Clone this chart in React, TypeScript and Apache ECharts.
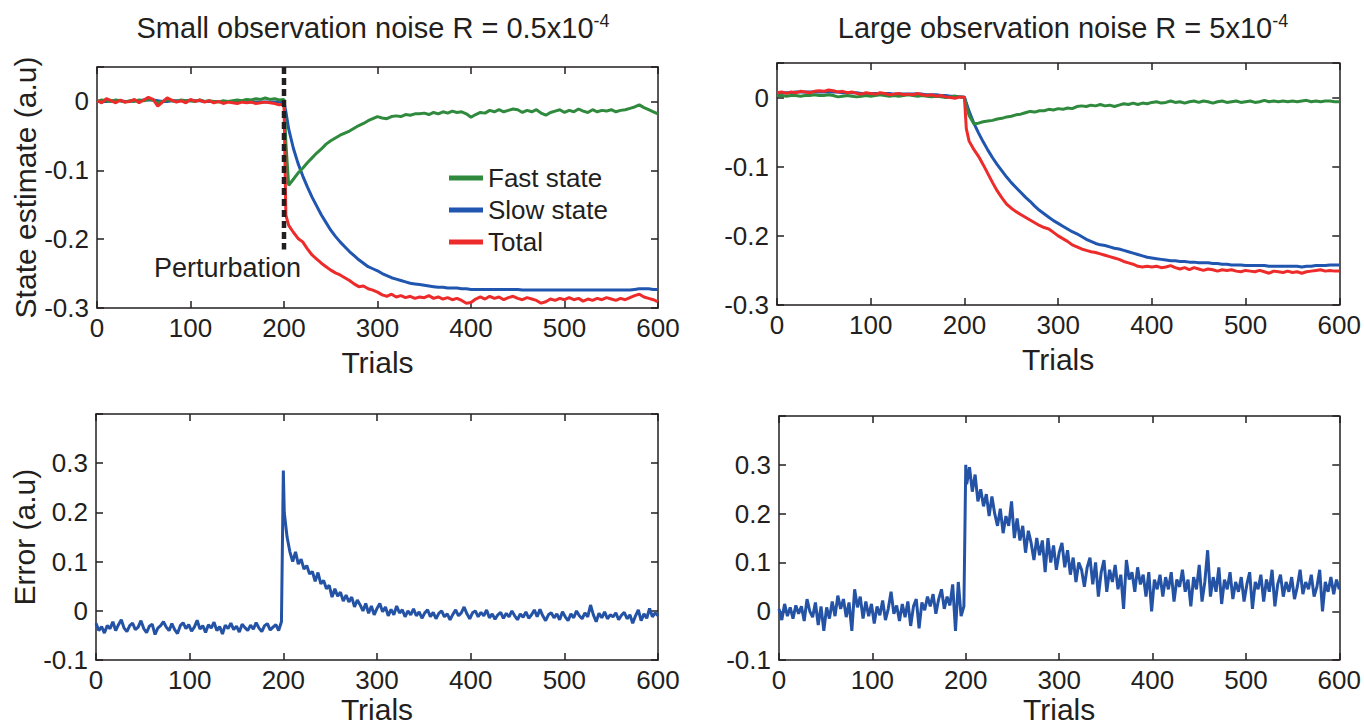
import React, { useEffect, useRef } from "react";
import * as echarts from "echarts";

// ---------- data ----------
const TRIAL_MIN = 0;
const TRIAL_MAX = 600;
const PERTURB_TRIAL = 200;
const STATE_STEP = 5;
const STATE_JUMP_TRIAL = 202;
const STATE_POST_START = 205;
const ERROR_STEP = 3;
const ERROR_POST_START = 201;

const stateTicks = [-0.3, -0.2, -0.1, 0];
const errorTicks = [-0.1, 0, 0.1, 0.2, 0.3];
const trialTicks = [0, 100, 200, 300, 400, 500, 600];
const legendNames = ["Fast state", "Slow state", "Total"];
const perturbationExtent = [0.05, -0.215];

// Small observation noise (top-left)
const smallFastPre = [0.000,0.002,0.001,0.000,0.002,0.001,-0.001,0.001,0.000,0.002,
  0.001,0.003,0.002,-0.002,0.000,0.002,0.001,0.000,0.002,0.001,
  0.001,0.000,0.002,0.000,0.001,0.000,-0.001,0.001,0.000,0.001,
  0.002,0.001,0.003,0.002,0.004,0.003,0.005,0.003,0.004,0.002,
  0.003];
const smallSlowPre = [0.000,0.000,0.000,0.001,0.001,0.001,0.000,0.000,0.001,0.001,
  0.002,0.002,0.002,0.001,0.000,0.000,0.001,0.001,0.001,0.001,
  0.001,0.001,0.001,0.000,0.000,0.000,0.000,0.000,0.000,0.000,
  0.000,0.000,-0.001,-0.001,-0.001,-0.001,-0.001,-0.001,-0.001,-0.001,
  -0.001];
const smallTotalPre = [0.001,-0.002,0.004,0.001,-0.002,0.002,-0.001,0.000,0.003,-0.002,
  0.002,0.006,0.003,-0.007,-0.001,0.005,0.002,-0.001,0.001,-0.002,
  0.003,0.000,0.002,-0.001,0.001,-0.002,0.000,-0.003,-0.001,-0.002,
  -0.003,-0.001,-0.002,-0.001,-0.003,-0.002,-0.001,-0.002,-0.003,-0.005,
  -0.003];
const smallJump = [-0.06, -0.015, -0.165]; // fast, slow, total at trial 202
const smallFastPost = [-0.122,-0.113,-0.104,-0.097,-0.089,-0.082,-0.075,-0.069,-0.062,-0.057,
  -0.053,-0.049,-0.046,-0.043,-0.039,-0.035,-0.032,-0.028,-0.025,-0.022,
  -0.024,-0.025,-0.022,-0.021,-0.022,-0.019,-0.020,-0.018,-0.018,-0.017,
  -0.019,-0.016,-0.018,-0.015,-0.017,-0.014,-0.016,-0.015,-0.018,-0.023,
  -0.019,-0.016,-0.017,-0.013,-0.015,-0.012,-0.015,-0.013,-0.011,-0.012,
  -0.016,-0.013,-0.015,-0.012,-0.017,-0.020,-0.016,-0.014,-0.012,-0.016,
  -0.013,-0.015,-0.011,-0.014,-0.016,-0.012,-0.015,-0.013,-0.014,-0.012,
  -0.015,-0.013,-0.012,-0.010,-0.008,-0.005,-0.009,-0.012,-0.015,-0.018];
const smallSlowPost = [-0.040,-0.068,-0.090,-0.108,-0.124,-0.139,-0.152,-0.165,-0.176,-0.187,
  -0.196,-0.204,-0.211,-0.218,-0.224,-0.230,-0.235,-0.240,-0.243,-0.246,
  -0.250,-0.253,-0.256,-0.258,-0.260,-0.262,-0.264,-0.265,-0.266,-0.267,
  -0.268,-0.269,-0.270,-0.270,-0.271,-0.271,-0.271,-0.272,-0.272,-0.273,
  -0.273,-0.273,-0.273,-0.273,-0.273,-0.273,-0.273,-0.273,-0.273,-0.273,
  -0.274,-0.274,-0.274,-0.274,-0.274,-0.274,-0.274,-0.274,-0.274,-0.274,
  -0.274,-0.274,-0.274,-0.274,-0.274,-0.274,-0.274,-0.274,-0.274,-0.274,
  -0.274,-0.274,-0.274,-0.274,-0.273,-0.272,-0.272,-0.272,-0.273,-0.273];
const smallTotalPost = [-0.180,-0.190,-0.199,-0.204,-0.214,-0.223,-0.229,-0.235,-0.240,-0.245,
  -0.249,-0.252,-0.256,-0.260,-0.265,-0.269,-0.268,-0.272,-0.274,-0.277,
  -0.281,-0.283,-0.280,-0.284,-0.282,-0.285,-0.283,-0.286,-0.284,-0.285,
  -0.282,-0.286,-0.284,-0.287,-0.285,-0.288,-0.286,-0.289,-0.293,-0.292,
  -0.287,-0.284,-0.287,-0.283,-0.286,-0.284,-0.288,-0.285,-0.283,-0.286,
  -0.288,-0.285,-0.287,-0.289,-0.293,-0.291,-0.287,-0.289,-0.286,-0.288,
  -0.285,-0.288,-0.286,-0.290,-0.287,-0.289,-0.286,-0.288,-0.285,-0.287,
  -0.289,-0.286,-0.288,-0.285,-0.282,-0.280,-0.284,-0.286,-0.288,-0.291];

// Large observation noise (top-right)
const largeFastPre = [0.003,0.003,0.002,0.003,0.003,0.002,0.003,0.003,0.004,0.003,
  0.003,0.004,0.003,0.001,0.002,0.003,0.002,0.001,0.002,0.003,
  0.002,0.003,0.004,0.003,0.002,0.003,0.002,0.003,0.004,0.003,
  0.002,0.003,0.002,0.001,0.002,0.001,0.000,0.001,0.002,0.001,
  0.000];
const largeSlowPre = [0.007,0.007,0.007,0.007,0.008,0.008,0.008,0.008,0.008,0.008,
  0.008,0.008,0.008,0.008,0.007,0.007,0.007,0.007,0.006,0.006,
  0.006,0.006,0.006,0.006,0.006,0.005,0.005,0.005,0.005,0.005,
  0.005,0.005,0.004,0.004,0.004,0.003,0.003,0.002,0.002,0.001,
  0.001];
const largeTotalPre = [0.007,0.008,0.006,0.008,0.007,0.009,0.008,0.007,0.009,0.010,
  0.009,0.011,0.010,0.008,0.009,0.007,0.008,0.006,0.005,0.007,
  0.006,0.005,0.007,0.006,0.004,0.005,0.006,0.004,0.005,0.004,
  0.006,0.004,0.003,0.004,0.002,0.003,0.001,0.000,-0.001,0.001,
  0.000];
const largeJump = [-0.012, -0.008, -0.045];
const largeFastPost = [-0.026,-0.038,-0.037,-0.035,-0.034,-0.033,-0.031,-0.030,-0.028,-0.027,
  -0.025,-0.024,-0.022,-0.020,-0.021,-0.019,-0.019,-0.017,-0.018,-0.016,
  -0.017,-0.015,-0.016,-0.013,-0.012,-0.013,-0.011,-0.012,-0.010,-0.012,
  -0.011,-0.013,-0.011,-0.009,-0.010,-0.008,-0.010,-0.008,-0.009,-0.007,
  -0.006,-0.008,-0.007,-0.005,-0.007,-0.006,-0.008,-0.006,-0.005,-0.007,
  -0.005,-0.006,-0.008,-0.006,-0.005,-0.007,-0.006,-0.005,-0.007,-0.006,
  -0.005,-0.007,-0.006,-0.004,-0.006,-0.005,-0.006,-0.005,-0.006,-0.005,
  -0.006,-0.005,-0.004,-0.006,-0.005,-0.006,-0.005,-0.005,-0.006,-0.006];
const largeSlowPost = [-0.020,-0.037,-0.051,-0.064,-0.076,-0.087,-0.097,-0.106,-0.115,-0.123,
  -0.130,-0.137,-0.144,-0.150,-0.157,-0.163,-0.168,-0.173,-0.178,-0.182,
  -0.186,-0.190,-0.194,-0.197,-0.201,-0.205,-0.208,-0.211,-0.213,-0.214,
  -0.216,-0.218,-0.219,-0.221,-0.223,-0.225,-0.227,-0.229,-0.231,-0.232,
  -0.233,-0.234,-0.235,-0.236,-0.236,-0.237,-0.237,-0.238,-0.238,-0.239,
  -0.239,-0.239,-0.240,-0.240,-0.241,-0.241,-0.242,-0.242,-0.242,-0.243,
  -0.243,-0.243,-0.243,-0.243,-0.244,-0.244,-0.244,-0.244,-0.244,-0.244,
  -0.244,-0.245,-0.244,-0.244,-0.243,-0.243,-0.243,-0.242,-0.242,-0.242];
const largeTotalPost = [-0.063,-0.075,-0.085,-0.097,-0.110,-0.123,-0.135,-0.145,-0.154,-0.160,
  -0.165,-0.169,-0.173,-0.177,-0.181,-0.185,-0.188,-0.190,-0.195,-0.200,
  -0.204,-0.208,-0.213,-0.216,-0.219,-0.221,-0.223,-0.224,-0.226,-0.228,
  -0.230,-0.232,-0.234,-0.237,-0.239,-0.241,-0.244,-0.245,-0.244,-0.245,
  -0.244,-0.246,-0.245,-0.243,-0.246,-0.248,-0.246,-0.249,-0.246,-0.248,
  -0.250,-0.248,-0.249,-0.251,-0.249,-0.250,-0.249,-0.251,-0.252,-0.250,
  -0.251,-0.252,-0.250,-0.252,-0.254,-0.251,-0.252,-0.253,-0.251,-0.253,
  -0.252,-0.254,-0.252,-0.251,-0.250,-0.249,-0.251,-0.250,-0.251,-0.251];

// Error (bottom row)
const smallErrPre = [-0.025,-0.040,-0.032,-0.045,-0.030,-0.036,-0.022,-0.040,-0.028,-0.018,
  -0.035,-0.042,-0.030,-0.025,-0.038,-0.033,-0.020,-0.036,-0.044,-0.031,
  -0.027,-0.048,-0.035,-0.030,-0.022,-0.033,-0.040,-0.026,-0.038,-0.046,
  -0.030,-0.024,-0.036,-0.028,-0.041,-0.033,-0.019,-0.037,-0.030,-0.044,
  -0.028,-0.035,-0.023,-0.040,-0.032,-0.047,-0.029,-0.036,-0.025,-0.038,
  -0.031,-0.043,-0.027,-0.034,-0.040,-0.029,-0.037,-0.024,-0.035,-0.042,
  -0.030,-0.026,-0.039,-0.033,-0.028,-0.040,-0.022];
const smallErrPeak = 0.285;
const smallErrPost = [0.200,0.150,0.120,0.100,0.120,0.095,0.105,0.085,0.092,0.075,
  0.080,0.060,0.078,0.055,0.062,0.045,0.052,0.028,0.045,0.030,
  0.038,0.020,0.032,0.018,0.028,0.008,0.022,0.012,0.000,0.015,
  -0.005,0.010,-0.008,0.005,0.015,-0.002,0.008,-0.010,0.003,-0.008,
  0.010,-0.004,0.002,-0.012,0.000,-0.008,0.004,-0.010,-0.002,-0.015,
  -0.004,0.002,-0.012,-0.003,-0.016,-0.005,0.000,-0.012,-0.006,-0.018,
  -0.007,0.002,-0.010,-0.004,0.008,-0.006,-0.016,-0.004,0.000,-0.012,
  -0.003,-0.010,0.002,-0.014,-0.006,-0.017,-0.008,-0.003,-0.015,-0.005,
  -0.012,0.000,-0.010,-0.018,-0.006,-0.013,-0.002,-0.015,-0.008,0.002,
  -0.012,0.003,-0.010,-0.020,-0.008,-0.004,-0.014,-0.006,-0.018,-0.002,
  -0.012,-0.020,-0.006,-0.014,0.000,-0.010,-0.016,-0.004,-0.012,0.012,
  -0.008,-0.022,-0.005,-0.014,-0.002,-0.016,-0.008,-0.012,-0.004,-0.018,
  -0.009,-0.003,-0.016,-0.008,-0.025,-0.010,0.002,-0.020,-0.006,-0.015,
  0.005,-0.012,-0.004,-0.010];

const largeErrPre = [0.005,-0.018,0.015,-0.010,0.008,-0.015,0.012,-0.005,0.010,-0.020,
  0.025,0.000,-0.012,0.018,-0.028,0.010,-0.040,0.008,-0.015,0.020,
  -0.010,0.032,0.005,0.025,-0.012,0.018,-0.040,0.045,0.008,0.030,
  -0.015,0.020,-0.010,0.015,-0.025,0.010,-0.008,0.022,-0.018,0.005,
  0.040,-0.005,0.012,-0.020,0.015,-0.012,0.020,-0.030,0.010,0.025,
  -0.035,0.018,0.002,0.030,0.010,0.035,-0.005,0.025,0.045,0.005,
  0.030,0.012,0.055,-0.040,0.060,-0.010,0.010];
const largeErrPeak = 0.300;
const largeErrPost = [0.260,0.295,0.245,0.280,0.225,0.250,0.215,0.240,0.195,0.235,
  0.200,0.175,0.210,0.160,0.195,0.175,0.225,0.150,0.190,0.145,
  0.175,0.120,0.165,0.140,0.105,0.150,0.115,0.145,0.080,0.150,
  0.100,0.135,0.085,0.120,0.140,0.090,0.125,0.075,0.110,0.060,
  0.100,0.085,0.050,0.090,0.110,0.055,0.100,0.030,0.080,0.105,
  0.040,0.085,0.060,0.095,0.045,0.075,0.005,0.105,0.065,0.080,
  0.040,0.090,0.055,0.075,0.030,0.080,0.000,0.065,0.045,0.075,
  0.030,0.070,0.045,0.080,0.020,0.065,0.050,0.085,0.040,0.065,
  0.010,0.070,0.045,0.095,0.020,0.060,0.125,0.030,0.070,0.040,
  0.090,0.015,0.065,0.045,0.080,0.025,0.060,0.040,0.070,0.020,
  0.055,0.080,0.005,0.060,0.045,0.075,0.020,0.065,0.040,0.085,
  0.010,0.055,0.075,0.030,0.060,0.040,0.070,0.025,0.050,0.085,
  0.035,0.060,0.045,0.075,0.030,0.050,0.085,0.000,0.060,0.040,
  0.070,0.035,0.065,0.045];

// ---------- helpers ----------
const seg = (start: number, step: number, ys: number[]) =>
  ys.map((y, i) => [start + i * step, y]);

const stateSeries = (pre: number[], jump: number, post: number[]) => [
  ...seg(TRIAL_MIN, STATE_STEP, pre),
  [STATE_JUMP_TRIAL, jump],
  ...seg(STATE_POST_START, STATE_STEP, post),
];

const errorSeries = (pre: number[], peak: number, post: number[]) => [
  ...seg(TRIAL_MIN, ERROR_STEP, pre),
  [PERTURB_TRIAL, peak],
  ...seg(ERROR_POST_START, ERROR_STEP, post),
];

const FONT = "'Liberation Sans', Arial, Helvetica, sans-serif";
const INK = "#231f20";
const GREEN = "#2f8a3d";
const BLUE = "#2055b0";
const RED = "#ee2b2b";
const ERR_BLUE = "#2453a6";

const grids = [
  { left: 97, top: 67, width: 561, height: 241 },
  { left: 777, top: 63, width: 564, height: 242 },
  { left: 96, top: 414, width: 562, height: 247 },
  { left: 779, top: 416, width: 564, height: 249 },
];

export default function App() {
  const ref = useRef<HTMLDivElement>(null);

  useEffect(() => {
    if (!ref.current) return;
    const chart = echarts.init(ref.current, undefined, { renderer: "svg" });

    const lineStyle = { color: INK, width: 1.5 };
    const xAxes: any[] = [];
    const yAxes: any[] = [];
    grids.forEach((_, gi) => {
      const isState = gi < 2;
      xAxes.push({
        type: "value", gridIndex: gi, min: TRIAL_MIN, max: TRIAL_MAX, interval: 100,
        position: "bottom",
        axisLine: { show: true, onZero: false, lineStyle },
        axisTick: { show: true, inside: true, length: 7, lineStyle },
        axisLabel: { fontSize: 26, color: INK, fontFamily: FONT, margin: 7,
          formatter: (v: number) => (trialTicks.includes(v) ? String(v) : "") },
        splitLine: { show: false },
        name: "Trials", nameLocation: "middle", nameGap: isState ? 39 : 32,
        nameTextStyle: { fontSize: 30, color: INK, fontFamily: FONT },
      });
      xAxes.push({
        type: "value", gridIndex: gi, min: TRIAL_MIN, max: TRIAL_MAX, interval: 100,
        position: "top",
        axisLine: { show: true, onZero: false, lineStyle },
        axisTick: { show: true, inside: true, length: 7, lineStyle },
        axisLabel: { show: false }, splitLine: { show: false },
      });
      const ticks = isState ? stateTicks : errorTicks;
      const yBase = {
        type: "value", gridIndex: gi,
        min: isState ? -0.3 : -0.1, max: isState ? 0.05 : 0.4, interval: 0.1,
        splitLine: { show: false },
      };
      yAxes.push({
        ...yBase, position: "left",
        axisLine: { show: true, onZero: false, lineStyle },
        axisTick: { show: true, inside: true, length: 7, lineStyle },
        axisLabel: { fontSize: 26, color: INK, fontFamily: FONT, margin: 8,
          formatter: (v: number) => {
            const r = Math.round(v * 10) / 10;
            return ticks.some((t) => Math.abs(t - r) < 1e-9) ? String(r) : "";
          } },
        name: gi === 0 ? "State estimate (a.u)" : gi === 2 ? "Error (a.u)" : "",
        nameLocation: "middle", nameGap: 52, nameRotate: 90,
        nameTextStyle: { fontSize: 30, color: INK, fontFamily: FONT },
      });
      yAxes.push({
        ...yBase, position: "right",
        axisLine: { show: true, onZero: false, lineStyle },
        axisTick: { show: true, inside: true, length: 7, lineStyle },
        axisLabel: { show: false },
      });
    });

    const line = (name: string, gi: number, data: any[], color: string, width = 3, z = 2) => ({
      type: "line", name, xAxisIndex: gi * 2, yAxisIndex: gi * 2, data,
      showSymbol: false, symbol: "none", z,
      lineStyle: { color, width }, itemStyle: { color },
    });

    const series: any[] = [
      line(legendNames[1], 0, stateSeries(smallSlowPre, smallJump[1], smallSlowPost), BLUE, 3, 2),
      line(legendNames[0], 0, stateSeries(smallFastPre, smallJump[0], smallFastPost), GREEN, 3, 3),
      line(legendNames[2], 0, stateSeries(smallTotalPre, smallJump[2], smallTotalPost), RED, 3, 4),
      {
        type: "line", name: "Perturbation", xAxisIndex: 0, yAxisIndex: 0, z: 5,
        data: perturbationExtent.map((v) => [PERTURB_TRIAL, v]),
        showSymbol: false, symbol: "none",
        lineStyle: { color: INK, width: 4.5, type: [7, 4] },
      },
      line(legendNames[1], 1, stateSeries(largeSlowPre, largeJump[1], largeSlowPost), BLUE, 3, 2),
      line(legendNames[0], 1, stateSeries(largeFastPre, largeJump[0], largeFastPost), GREEN, 3, 3),
      line(legendNames[2], 1, stateSeries(largeTotalPre, largeJump[2], largeTotalPost), RED, 3, 4),
      line("Error small", 2, errorSeries(smallErrPre, smallErrPeak, smallErrPost), ERR_BLUE, 3),
      line("Error large", 3, errorSeries(largeErrPre, largeErrPeak, largeErrPost), ERR_BLUE, 3),
    ];

    const supRich = {
      sup: { fontSize: 18, fontFamily: FONT, fill: INK, verticalAlign: "top", lineHeight: 32, padding: [0, 0, 12, 0] },
    };

    chart.setOption({
      animation: false,
      backgroundColor: "#ffffff",
      grid: grids.map((g) => ({ ...g, containLabel: false })),
      xAxis: xAxes,
      yAxis: yAxes,
      legend: {
        data: legendNames, orient: "vertical", left: 444, top: 160,
        icon: "rect", itemWidth: 34, itemHeight: 5, itemGap: 6,
        textStyle: { fontSize: 26, fontFamily: FONT, color: INK },
        selectedMode: false,
      },
      series,
      graphic: [
        {
          type: "text", x: 373, y: 12,
          style: {
            text: "Small observation noise R = 0.5x10{sup|-4}",
            fontSize: 29, fontFamily: FONT, fill: INK, align: "center", verticalAlign: "top",
            rich: supRich,
          },
        },
        {
          type: "text", x: 1063, y: 12,
          style: {
            text: "Large observation noise R = 5x10{sup|-4}",
            fontSize: 29, fontFamily: FONT, fill: INK, align: "center", verticalAlign: "top",
            rich: supRich,
          },
        },
        {
          type: "text", x: 154, y: 254,
          style: { text: "Perturbation", fontSize: 27, fontFamily: FONT, fill: INK },
        },
      ],
    });

    return () => chart.dispose();
  }, []);

  return (
    <div
      ref={ref}
      style={{ position: "fixed", left: 0, top: 0, width: 1364, height: 725, background: "#fff" }}
    />
  );
}
